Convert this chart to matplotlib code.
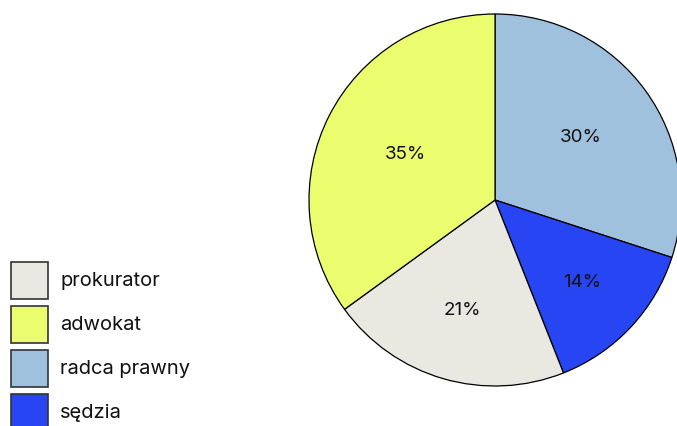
import numpy as np
import matplotlib.pyplot as plt
from matplotlib.patches import Rectangle

plt.rcParams['font.family'] = ['Inter', 'DejaVu Sans']

# udział zawodów prawniczych
zawody = ['radca prawny', 'sędzia', 'prokurator', 'adwokat']
udzialy = [30, 14, 21, 35]
kolory = ['#a0c1de', '#2845f3', '#e9e9e2', '#ebfd6f']

legenda_kolejnosc = ['prokurator', 'adwokat', 'radca prawny', 'sędzia']

W, H = 677, 426
fig = plt.figure(figsize=(W / 100, H / 100), dpi=100)
ax = fig.add_axes([309 / W, 40 / H, 372 / W, 372 / H])
wedges, _, etykiety = ax.pie(udzialy, colors=kolory, startangle=90, counterclock=False,
                             autopct='%d%%',
                             wedgeprops=dict(edgecolor='black', linewidth=0.9),
                             textprops=dict(fontsize=13.5, color='#111111'))

# etykiety w środku ciężkości wycinka
for w, t in zip(wedges, etykiety):
    a = np.deg2rad((w.theta2 - w.theta1) / 2)
    srodek = np.deg2rad((w.theta1 + w.theta2) / 2)
    d = 2 * np.sin(a) / (3 * a)
    t.set_position((d * np.cos(srodek), d * np.sin(srodek)))

ax.set_xlim(-1, 1)
ax.set_ylim(-1, 1)
ax.set_aspect('equal')
ax.axis('off')

# legenda w lewym dolnym rogu
for i, z in enumerate(legenda_kolejnosc):
    gora = 262 + 44 * i
    fig.add_artist(Rectangle((11 / W, 1 - (gora + 37) / H), 37 / W, 37 / H,
                             transform=fig.transFigure, facecolor=kolory[zawody.index(z)],
                             edgecolor='#333333', linewidth=1.2))
    fig.text(60 / W, 1 - (gora + 18.5) / H, z, fontsize=14.5, color='#111111',
             va='center', ha='left')

fig.savefig('out.png', dpi=100)
